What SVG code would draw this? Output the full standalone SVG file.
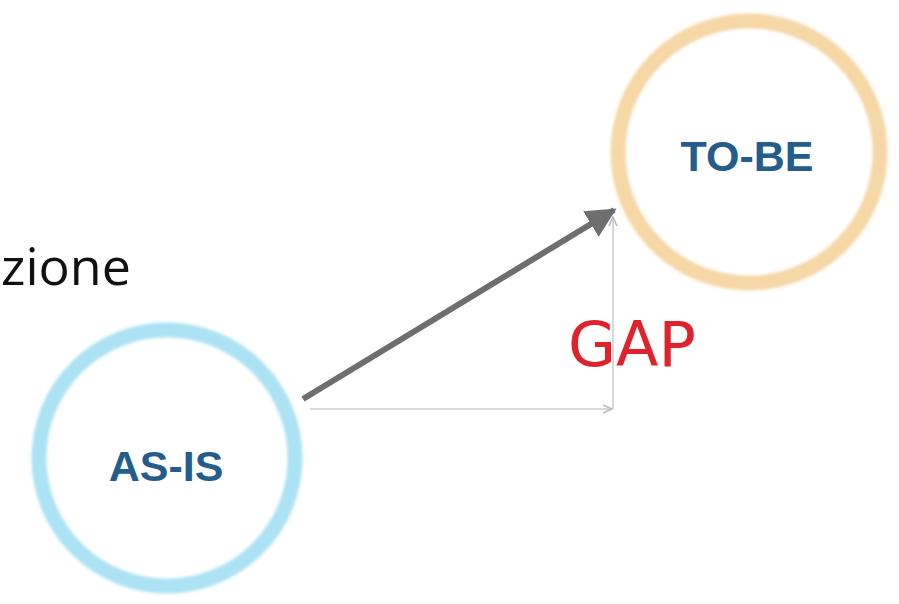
<svg xmlns="http://www.w3.org/2000/svg" width="899" height="604" viewBox="0 0 899 604">
  <style>
    .ring { fill: #ffffff; stroke-width: 15; }
    .label { font-family: "Liberation Sans", Arial, sans-serif; font-weight: bold; font-size: 43px; fill: #245c8c; text-anchor: middle; }
    .thin { stroke: #c9cdd2; stroke-width: 1.5; fill: none; }
  </style>
  <defs>
    <filter id="soft" x="-10%" y="-10%" width="120%" height="120%">
      <feGaussianBlur stdDeviation="1.5"/>
    </filter>
    <marker id="bigHead" viewBox="0 0 10 10" refX="9" refY="5" markerWidth="5" markerHeight="5" orient="auto" markerUnits="strokeWidth">
      <path d="M0,0 L10,5 L0,10 Z" fill="#6e6e6e"/>
    </marker>
    <marker id="thinHead" viewBox="0 0 10 10" refX="9" refY="5" markerWidth="7" markerHeight="7" orient="auto" markerUnits="strokeWidth">
      <path d="M0,1 L9,5 L0,9" fill="none" stroke="#b5b9be" stroke-width="1.5"/>
    </marker>
  </defs>
  <rect width="899" height="604" fill="#ffffff"/>

  <text x="1" y="285" font-family="'Open Sans', 'Noto Sans', sans-serif" font-size="52" fill="#111111">zione</text>

  <g id="as-is">
    <circle cx="167" cy="458" r="128" class="ring" stroke="#abe2f4" filter="url(#soft)"/>
    <text x="166" y="481" class="label">AS-IS</text>
  </g>

  <g id="to-be">
    <circle cx="749" cy="152" r="131" class="ring" stroke="#f6d7a6" filter="url(#soft)"/>
    <text x="747" y="171" class="label">TO-BE</text>
  </g>

  <g id="connectors">
    <line x1="310" y1="409" x2="612" y2="409" class="thin" marker-end="url(#thinHead)"/>
    <line x1="613" y1="409" x2="613" y2="217" class="thin" marker-end="url(#thinHead)"/>
    <line x1="303" y1="399" x2="614" y2="210" stroke="#6e6e6e" stroke-width="6" marker-end="url(#bigHead)"/>
  </g>

  <g id="gap">
    <text x="632" y="366" font-family="'DejaVu Sans', sans-serif" font-size="62" fill="#e0222c" text-anchor="middle" textLength="128" lengthAdjust="spacingAndGlyphs">GAP</text>
  </g>
</svg>
